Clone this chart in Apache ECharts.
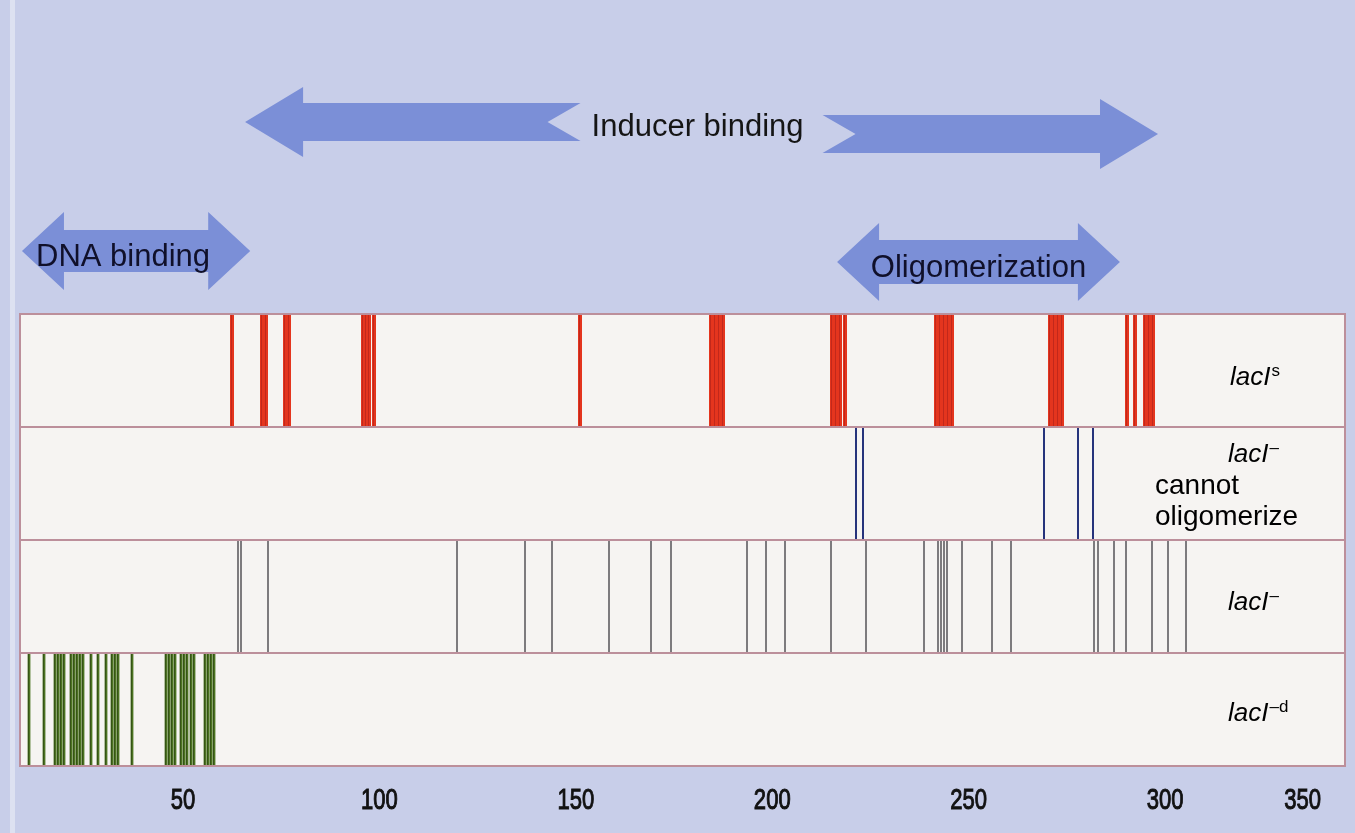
<!DOCTYPE html>
<html><head><meta charset="utf-8">
<script src="https://cdn.jsdelivr.net/npm/echarts@6/dist/echarts.min.js"></script>
<style>html,body{margin:0;padding:0;background:#c8cee9;}#c{width:1355px;height:833px;}</style>
</head><body><div id="c"></div>
<script>
// ---- data ----
const rowNames = ['lacI^s', 'lacI^- cannot oligomerize', 'lacI^-', 'lacI^-d'];
const lacIs = [62.5, 70.1, 71.1, 76.0, 77.0, 95.8, 96.6, 97.4, 98.5, 151.1,
  184.4, 185.4, 186.4, 187.5, 215.2, 216.2, 217.2, 218.5,
  241.7, 242.7, 243.7, 244.8, 245.8, 270.7, 271.7, 272.8, 273.8,
  290.3, 292.4, 294.9, 295.9, 296.9];
const lacIminusNoOligo = [221.3, 223.1, 269.2, 277.9, 281.7];
const lacIminus = [64.0, 64.8, 71.6, 119.8, 137.1, 143.9, 158.5, 169.1, 174.2, 193.6, 198.4,
  203.3, 215.0, 223.9, 238.6, 242.2, 243.0, 243.7, 244.5, 248.3, 256.0, 260.8,
  281.9, 282.9, 287.0, 290.1, 296.7, 300.8, 305.3];
const lacIminusD = [10.8, 14.6, 17.4, 18.2, 18.9, 19.7, 21.5, 22.3, 23.0, 23.8, 24.5,
  26.6, 28.4, 30.4, 31.9, 32.7, 33.5, 37.0, 45.7, 46.4, 47.2, 48.0,
  49.5, 50.3, 51.0, 52.0, 52.8, 55.6, 56.4, 57.1, 57.9];
const domainNames = ['Inducer binding', 'DNA binding', 'Oligomerization'];
const domainStart = [65.8, 9.0, 216.5];
const domainEnd = [298.2, 67.1, 288.5];
const tickLabels = ['50', '100', '150', '200', '250', '300', '350'];
const tickValues = [50, 100, 150, 200, 250, 300, 335];
const axisMin = 8.5, axisMax = 345.8;

// ---- styles ----
const FONT = '"Liberation Sans", Arial, sans-serif';
const arrowColor = '#7b8fd7';
const arrowLayout = [
  {split: true, cyL: 122, cyR: 134, head: 58, headHalf: 35, shaftHalf: 19, gap: 121, notch: 33, textY: 127, textDx: -4, size: 31},
  {split: false, cy: 251, head: 42, headHalf: 39, shaftHalf: 21, textY: 257, textDx: -13, size: 31},
  {split: false, cy: 262, head: 42, headHalf: 39, shaftHalf: 22, textY: 268, textDx: 0, size: 31}
];

const chart = echarts.init(document.getElementById('c'));

function markSeries(values, row, color, width, inner) {
  return {
    type: 'custom', silent: true, z: 4,
    data: values.map(v => [v, row]),
    renderItem: (params, api) => {
      const x = api.value(0), r = api.value(1);
      const p0 = api.coord([x, r]), p1 = api.coord([x, r + 1]);
      const px = Math.round(p0[0]);
      const children = [{type: 'line', shape: {x1: px, y1: p0[1] + 1, x2: px, y2: p1[1] - 1},
        style: {stroke: color, lineWidth: width}}];
      if (inner) children.push({type: 'line', shape: {x1: px - 0.5, y1: p0[1] + 1, x2: px - 0.5, y2: p1[1] - 1},
        style: {stroke: inner, lineWidth: 0.7}});
      return {type: 'group', children};
    }
  };
}

const labelRich = {
  m: {fontFamily: FONT, fontStyle: 'italic', fontSize: 26, color: '#1a1a1a', lineHeight: 30},
  s: {fontFamily: FONT, fontSize: 17, color: '#1a1a1a', lineHeight: 30, verticalAlign: 'top', padding: [0, 0, 14, 1]},
  n: {fontFamily: FONT, fontSize: 28, color: '#1a1a1a', lineHeight: 30}
};

const rowLabels = [
  [{t: '{m|lacI}{s|s}', x: 1230, y: 378}],
  [{t: '{m|lacI}{s|–}', x: 1228, y: 455},
   {t: '{n|cannot}', x: 1155, y: 486},
   {t: '{n|oligomerize}', x: 1155, y: 517}],
  [{t: '{m|lacI}{s|–}', x: 1228, y: 603}],
  [{t: '{m|lacI}{s|–d}', x: 1228, y: 714}]
];

const option = {
  backgroundColor: '#c8cee9',
  animation: false,
  grid: {left: 20, right: 10, top: 314, bottom: 67},
  xAxis: {
    type: 'value', min: axisMin, max: axisMax,
    axisLine: {show: false}, axisTick: {show: false}, splitLine: {show: false},
    axisLabel: {show: false}
  },
  yAxis: {type: 'value', min: 0, max: 4, inverse: true, show: false},
  graphic: [{type: 'rect', shape: {x: 10, y: 0, width: 5, height: 833}, style: {fill: '#dde1f1'}, silent: true}],
  series: [
    { // row boxes
      type: 'custom', silent: true, z: 2,
      data: rowNames.map((n, i) => [axisMin, i]),
      renderItem: (params, api) => {
        const r = api.value(1);
        const p0 = api.coord([axisMin, r]), p1 = api.coord([axisMax, r + 1]);
        const lbl = rowLabels[params.dataIndex].map(l => ({
          type: 'text', z2: 10,
          style: {text: l.t, x: l.x, y: l.y, align: 'left', verticalAlign: 'middle', rich: labelRich}
        }));
        return {type: 'group', children: [{
          type: 'rect', shape: {x: p0[0], y: p0[1], width: p1[0] - p0[0], height: p1[1] - p0[1]},
          style: {fill: '#f6f4f2', stroke: '#bc8f9b', lineWidth: 2}
        }].concat(lbl)};
      }
    },
    markSeries(lacIs, 0, '#e4351e', 4, '#b3221a'),
    markSeries(lacIminusNoOligo, 1, '#26337c', 2),
    markSeries(lacIminus, 2, '#7d7b7e', 2),
    markSeries(lacIminusD, 3, '#4c7421', 2.8, '#2c4512'),
    { // tick labels placed through the x scale (condensed lettering)
      type: 'custom', silent: true, z: 5,
      data: tickValues.map(v => [v, 4]),
      renderItem: (params, api) => {
        const p = api.coord([api.value(0), api.value(1)]);
        return {type: 'text', x: p[0], y: p[1] + 35, scaleX: 0.76,
          style: {text: tickLabels[params.dataIndex], x: 0, y: 0, align: 'center', verticalAlign: 'middle',
            font: '29px ' + FONT, fill: '#111111', stroke: '#111111', lineWidth: 1}};
      }
    },
    { // domain arrows
      type: 'custom', silent: true, z: 3,
      data: domainNames.map((n, i) => [domainStart[i], 0, domainEnd[i]]),
      renderItem: (params, api) => {
        const i = params.dataIndex, L = arrowLayout[i];
        const x1 = api.coord([api.value(0), 0])[0], x2 = api.coord([api.value(2), 0])[0];
        const mid = (x1 + x2) / 2;
        const kids = [];
        if (L.split) {
          const gL = mid - L.gap, gR = mid + L.gap, a = L.cyL, b = L.cyR;
          kids.push({type: 'polygon', shape: {points: [
            [x1, a], [x1 + L.head, a - L.headHalf], [x1 + L.head, a - L.shaftHalf], [gL, a - L.shaftHalf],
            [gL - L.notch, a], [gL, a + L.shaftHalf], [x1 + L.head, a + L.shaftHalf], [x1 + L.head, a + L.headHalf]]},
            style: {fill: arrowColor}});
          kids.push({type: 'polygon', shape: {points: [
            [gR, b - L.shaftHalf], [x2 - L.head, b - L.shaftHalf], [x2 - L.head, b - L.headHalf], [x2, b],
            [x2 - L.head, b + L.headHalf], [x2 - L.head, b + L.shaftHalf], [gR, b + L.shaftHalf], [gR + L.notch, b]]},
            style: {fill: arrowColor}});
          kids.push({type: 'text', style: {text: domainNames[i], x: mid + L.textDx, y: L.textY, align: 'center', verticalAlign: 'middle',
            font: L.size + 'px ' + FONT, fill: '#151515'}});
        } else {
          const c = L.cy;
          kids.push({type: 'polygon', shape: {points: [
            [x1, c], [x1 + L.head, c - L.headHalf], [x1 + L.head, c - L.shaftHalf], [x2 - L.head, c - L.shaftHalf],
            [x2 - L.head, c - L.headHalf], [x2, c], [x2 - L.head, c + L.headHalf], [x2 - L.head, c + L.shaftHalf],
            [x1 + L.head, c + L.shaftHalf], [x1 + L.head, c + L.headHalf]]},
            style: {fill: arrowColor}});
          kids.push({type: 'text', style: {text: domainNames[i], x: mid + L.textDx, y: L.textY, align: 'center', verticalAlign: 'middle',
            font: L.size + 'px ' + FONT, fill: '#10102a'}});
        }
        return {type: 'group', children: kids};
      }
    }
  ]
};
chart.setOption(option);
</script>
</body></html>
